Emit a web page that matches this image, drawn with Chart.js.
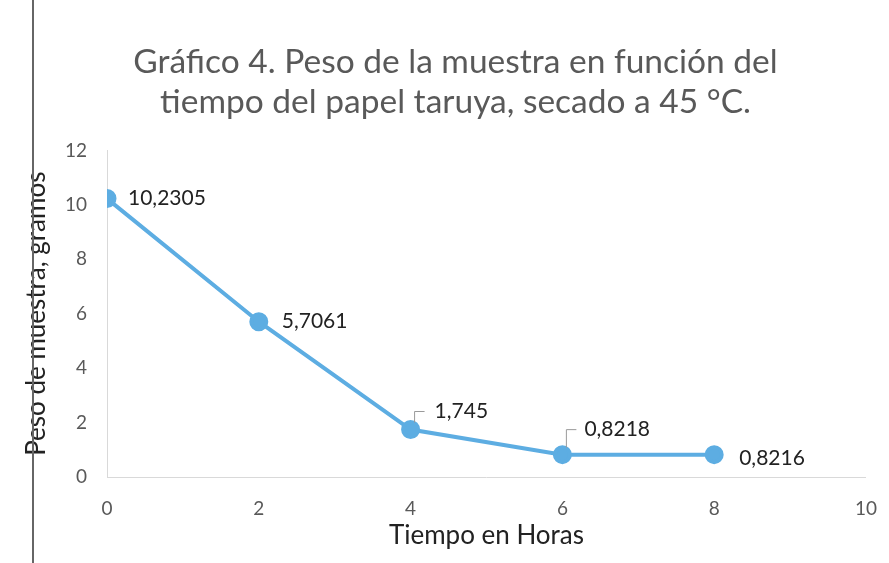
<!DOCTYPE html>
<html>
<head>
<meta charset="utf-8">
<script src="https://cdn.jsdelivr.net/npm/chart.js@4.4.0/dist/chart.umd.min.js"></script>
<style>
  html, body { margin: 0; padding: 0; background: #fff; }
  #wrap { position: relative; width: 889px; height: 563px; }
  #edge { position: absolute; left: 32px; top: 0; width: 2px; height: 563px; background: #666; }
</style>
</head>
<body>
<div id="wrap">
  <canvas id="chart_peso" width="889" height="563"></canvas>
  <div id="edge"></div>
</div>
<script>
const horas = [0, 2, 4, 6, 8];
const peso = [10.2305, 5.7061, 1.745, 0.8218, 0.8216];
const xTicks = [0, 2, 4, 6, 8, 10];
const yTicks = [0, 2, 4, 6, 8, 10, 12];

// label placement next to each point: [dx, dy, leader line?]
const labelPos = [[21, 0, false], [23, 0, false], [24, -18, true], [22, -25, true], [25, 4, false]];

const pointLabels = {
  id: 'pointLabels',
  afterLayout(chart) {
    // center the title over the whole page, not the padded box
    if (chart.titleBlock) {
      chart.titleBlock.left = 22;
      chart.titleBlock.right = 889;
    }
  },
  afterDatasetsDraw(chart) {
    const ctx = chart.ctx;
    const meta = chart.getDatasetMeta(0);
    ctx.save();
    ctx.font = '21px Lato';
    ctx.fillStyle = '#222';
    ctx.textBaseline = 'middle';
    meta.data.forEach(function(pt, i) {
      const p = labelPos[i];
      const txt = String(peso[i]).replace('.', ',');
      if (p[2]) {
        ctx.strokeStyle = '#9a9a9a';
        ctx.lineWidth = 1;
        ctx.beginPath();
        ctx.moveTo(pt.x + 4, pt.y - 7);
        ctx.lineTo(pt.x + 4, pt.y + p[1]);
        ctx.lineTo(pt.x + 14, pt.y + p[1]);
        ctx.stroke();
      }
      ctx.fillText(txt, pt.x + p[0], pt.y + p[1]);
    });
    ctx.restore();
  }
};

const ctx_peso = document.getElementById('chart_peso').getContext('2d');
const chartPeso = new Chart(ctx_peso, {
  type: 'scatter',
  data: {
    datasets: [{
      data: horas.map(function(h, i) { return { x: h, y: peso[i] }; }),
      showLine: true,
      borderColor: '#5dade2',
      backgroundColor: '#5dade2',
      borderWidth: 4,
      pointRadius: 7.5,
      pointHoverRadius: 7.5
    }]
  },
  options: {
    responsive: false,
    animation: false,
    layout: { padding: { top: 0, right: 22, bottom: 0, left: 0 } },
    plugins: {
      legend: { display: false },
      tooltip: { enabled: false },
      title: {
        display: true,
        text: ['Gráfico 4. Peso de la muestra en función del', 'tiempo del papel taruya, secado a 45 °C.'],
        color: '#595959',
        font: { family: 'Lato', size: 33.5, weight: 'normal', lineHeight: 1.2 },
        padding: { top: 42, bottom: 28 }
      }
    },
    scales: {
      x: {
        type: 'linear',
        min: 0,
        max: 10,
        afterBuildTicks: function(s) { s.ticks = xTicks.map(function(v) { return { value: v }; }); },
        afterFit: function(s) { s.height = 86; },
        grid: { display: false },
        border: { color: '#d9d9d9', width: 1 },
        ticks: { color: '#595959', font: { family: 'Lato', size: 19 }, padding: 12 },
        title: { display: true, text: 'Tiempo en Horas', color: '#222', font: { family: 'Lato', size: 26 }, padding: { top: 0, bottom: 12 } }
      },
      y: {
        min: 0,
        max: 12,
        afterBuildTicks: function(s) { s.ticks = yTicks.map(function(v) { return { value: v }; }); },
        afterFit: function(s) { s.width = 107; },
        grid: { display: false },
        border: { color: '#d9d9d9', width: 1 },
        ticks: { color: '#595959', font: { family: 'Lato', size: 19 }, padding: 12 },
        title: { display: true, text: 'Peso de muestra, gramos', color: '#222', font: { family: 'Lato', size: 26 }, padding: { top: 21, bottom: 0 } }
      }
    }
  },
  plugins: [pointLabels]
});
</script>
</body>
</html>
